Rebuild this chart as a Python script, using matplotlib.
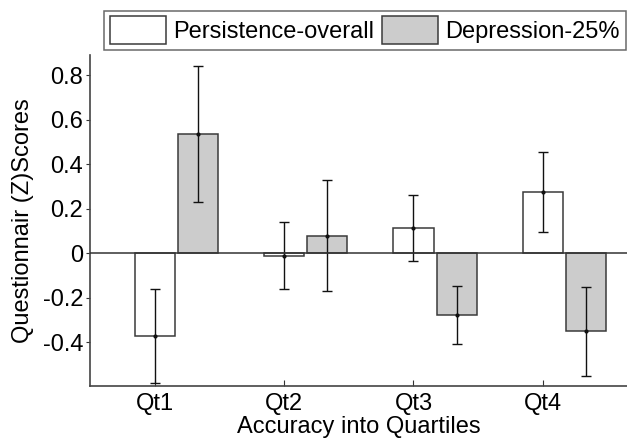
import matplotlib.pyplot as plt
import numpy as np

plt.rcParams['font.family'] = ['Liberation Sans', 'DejaVu Sans']

quartiles = ["Qt1", "Qt2", "Qt3", "Qt4"]
persistence = [-0.37, -0.01, 0.115, 0.275]
persistence_err = [0.21, 0.15, 0.148, 0.18]
depression = [0.535, 0.08, -0.275, -0.35]
depression_err = [0.305, 0.25, 0.13, 0.20]

fig = plt.figure(figsize=(6.27, 4.38), dpi=100)
ax = fig.add_axes([0.1435, 0.119, 0.8565, 0.755])

x = np.arange(1, len(quartiles) + 1)
w = 0.31
off = 0.333
edge = '#3a3a3a'

b1 = ax.bar(x, persistence, w, color='white', edgecolor=edge, linewidth=1.1,
            label='Persistence-overall')
b2 = ax.bar(x + off, depression, w, color='#cccccc', edgecolor=edge, linewidth=1.1,
            label='Depression-25%')
ax.errorbar(x, persistence, yerr=persistence_err, fmt='.', color='#111111',
            ms=4, capsize=3.5, elinewidth=1, capthick=1)
ax.errorbar(x + off, depression, yerr=depression_err, fmt='.', color='#111111',
            ms=4, capsize=3.5, elinewidth=1, capthick=1)
ax.axhline(0, color='#333333', lw=1.1, zorder=3)

ax.set_xlim(0.5, 4.65)
ax.set_ylim(-0.595, 0.89)
ax.set_xticks(x)
ax.set_xticklabels(quartiles)
ax.set_yticks([-0.4, -0.2, 0, 0.2, 0.4, 0.6, 0.8])
ax.set_yticklabels(['-0.4', '-0.2', '0', '0.2', '0.4', '0.6', '0.8'])
ax.tick_params(labelsize=17, color='#333333')
ax.tick_params(axis='x', direction='in', length=4, pad=5)
ax.tick_params(axis='y', direction='out', length=3, pad=2)
ax.spines['top'].set_visible(False)
ax.spines['right'].set_visible(False)
ax.spines['left'].set_color('#444444')
ax.spines['bottom'].set_color('#444444')
ax.spines['left'].set_linewidth(1.2)
ax.spines['bottom'].set_linewidth(1.2)

ax.set_xlabel('Accuracy into Quartiles', fontsize=17, labelpad=1)
ax.set_ylabel('Questionnair (Z)Scores', fontsize=17, labelpad=6)

leg = fig.legend(handles=[b1, b2], loc='upper right', bbox_to_anchor=(0.998, 0.976),
                 ncol=2, fontsize=17, frameon=True, fancybox=False,
                 handlelength=2.4, handleheight=1.45, handletextpad=0.3,
                 columnspacing=0.3, borderpad=0.25, borderaxespad=0)
leg.get_frame().set_edgecolor('#444444')
leg.get_frame().set_linewidth(1.1)

fig.savefig('out.png', dpi=100)
